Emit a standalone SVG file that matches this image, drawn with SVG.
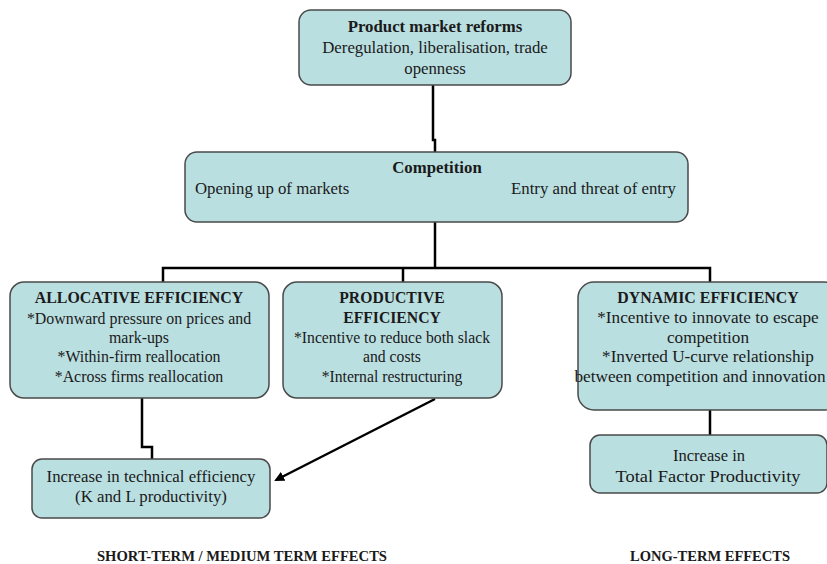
<svg xmlns="http://www.w3.org/2000/svg" width="827" height="564" viewBox="0 0 827 564">
<style>
.box{fill:#badfe1;stroke:#4a4a4a;stroke-width:1.5}
text{font-family:"Liberation Serif","Times New Roman",serif;font-size:16.8px;fill:#1a1a1a}
.c{text-anchor:middle}
.b{font-weight:bold}
.s16{font-size:15.9px}
.s157{font-size:15.7px}
.s17{font-size:17.2px}
.lbl{font-size:14.5px;font-weight:bold}
.conn{fill:none;stroke:#000;stroke-width:2.5}
</style>
<defs>
<marker id="arr" markerWidth="10" markerHeight="10" refX="8" refY="5" orient="auto" markerUnits="userSpaceOnUse">
<path d="M0,0 L10,5 L0,10 z" fill="#000"/>
</marker>
</defs>
<rect width="827" height="564" fill="#fff"/>
<g id="connectors">
<path class="conn" d="M433,85 V140 H435 V152"/>
<path class="conn" d="M435,222 V268"/>
<path class="conn" d="M163,282 V268 H710 V282"/>
<path class="conn" d="M403,268 V282"/>
<path class="conn" d="M142,398 V447 H152 V459"/>
<path class="conn" d="M435,399 L276,480" marker-end="url(#arr)"/>
<path class="conn" d="M710,410 V435"/>
</g>
<g id="reforms">
<rect class="box" x="299" y="10" width="272" height="75" rx="12"/>
<text class="c b" x="435" y="32">Product market reforms</text>
<text class="c" x="435" y="53">Deregulation, liberalisation, trade</text>
<text class="c" x="435" y="74">openness</text>
</g>
<g id="competition">
<rect class="box" x="185" y="152" width="503" height="70" rx="12"/>
<text class="c b" x="437" y="173">Competition</text>
<text x="195" y="194">Opening up of markets</text>
<text x="676" y="194" text-anchor="end">Entry and threat of entry</text>
</g>
<g id="allocative">
<rect class="box" x="10" y="282" width="259" height="116" rx="14"/>
<text class="c b s16" x="139" y="303">ALLOCATIVE EFFICIENCY</text>
<text class="c s16" x="139" y="324">*Downward pressure on prices and</text>
<text class="c s16" x="139" y="343">mark-ups</text>
<text class="c s16" x="139" y="362">*Within-firm reallocation</text>
<text class="c s16" x="139" y="382">*Across firms reallocation</text>
</g>
<g id="productive">
<rect class="box" x="283" y="282" width="219" height="116" rx="14"/>
<text class="c b s157" x="392" y="303">PRODUCTIVE</text>
<text class="c b s157" x="392" y="323">EFFICIENCY</text>
<text class="c s157" x="392" y="343">*Incentive to reduce both slack</text>
<text class="c s157" x="392" y="362">and costs</text>
<text class="c s157" x="392" y="382">*Internal restructuring</text>
</g>
<g id="dynamic">
<rect class="box" x="578" y="282" width="262" height="128" rx="16"/>
<text class="c b s16" x="708" y="303">DYNAMIC EFFICIENCY</text>
<text class="c s17" x="708" y="323">*Incentive to innovate to escape</text>
<text class="c s17" x="708" y="343">competition</text>
<text class="c s17" x="708" y="362">*Inverted U-curve relationship</text>
<text class="c s17" x="700" y="382" textLength="251" lengthAdjust="spacingAndGlyphs">between competition and innovation</text>
</g>
<g id="technical">
<rect class="box" x="32" y="459" width="238" height="59" rx="10"/>
<text class="c" x="151" y="482">Increase in technical efficiency</text>
<text class="c" x="151" y="502">(K and L productivity)</text>
</g>
<g id="tfp">
<rect class="box" x="590" y="435" width="237" height="58" rx="10"/>
<text class="c" x="709" y="461" textLength="72" lengthAdjust="spacingAndGlyphs">Increase in</text>
<text class="c" x="708" y="482" textLength="185" lengthAdjust="spacingAndGlyphs">Total Factor Productivity</text>
</g>
<g id="labels">
<text class="lbl" x="97" y="561" textLength="290" lengthAdjust="spacingAndGlyphs">SHORT-TERM / MEDIUM TERM EFFECTS</text>
<text class="lbl" x="630" y="561" textLength="160" lengthAdjust="spacingAndGlyphs">LONG-TERM EFFECTS</text>
</g>
</svg>
